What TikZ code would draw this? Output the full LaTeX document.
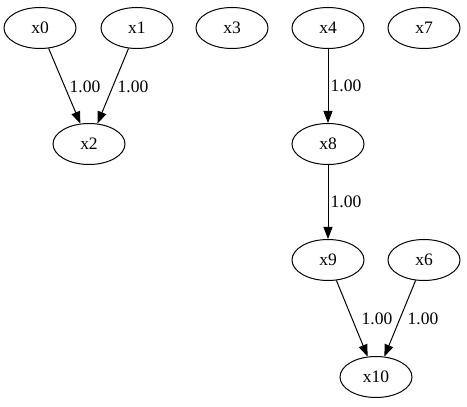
\documentclass[tikz,border=0pt]{standalone}
\usepackage{fontspec}
\setmainfont{Liberation Serif}
\usetikzlibrary{arrows.meta,shapes.geometric}
\begin{document}
\begin{tikzpicture}[x=1pt,y=1pt,
  nd/.style={ellipse,draw,line width=1pt,minimum width=72pt,minimum height=41pt,inner sep=0pt,font=\fontsize{17.5}{20}\selectfont},
  ed/.style={line width=1pt,-{Triangle[length=12pt,width=9pt]}},
  lb/.style={font=\fontsize{17.5}{20}\selectfont,inner sep=0pt}]
\useasboundingbox (0,0) rectangle (467,407);
\node[nd] (x0) at (40,379) {x0};
\node[nd] (x1) at (137,379) {x1};
\node[nd] (x3) at (232,379) {x3};
\node[nd] (x4) at (328,379) {x4};
\node[nd] (x7) at (424,379) {x7};
\node[nd] (x2) at (89,263) {x2};
\node[nd] (x8) at (328,263) {x8};
\node[nd] (x9) at (328,147) {x9};
\node[nd] (x6) at (424,147) {x6};
\node[nd] (x10) at (376,30) {x10};
\draw[ed] (x0) -- (x2);
\draw[ed] (x1) -- (x2);
\draw[ed] (x4) -- (x8);
\draw[ed] (x8) -- (x9);
\draw[ed] (x9) -- (x10);
\draw[ed] (x6) -- (x10);
\node[lb] (l1) at (85,320) {1.00};
\node[lb] (l2) at (133,320) {1.00};
\node[lb] (l3) at (346,321) {1.00};
\node[lb] (l4) at (346,205) {1.00};
\node[lb] (l5) at (377,88) {1.00};
\node[lb] (l6) at (423,88) {1.00};
\end{tikzpicture}
\end{document}
